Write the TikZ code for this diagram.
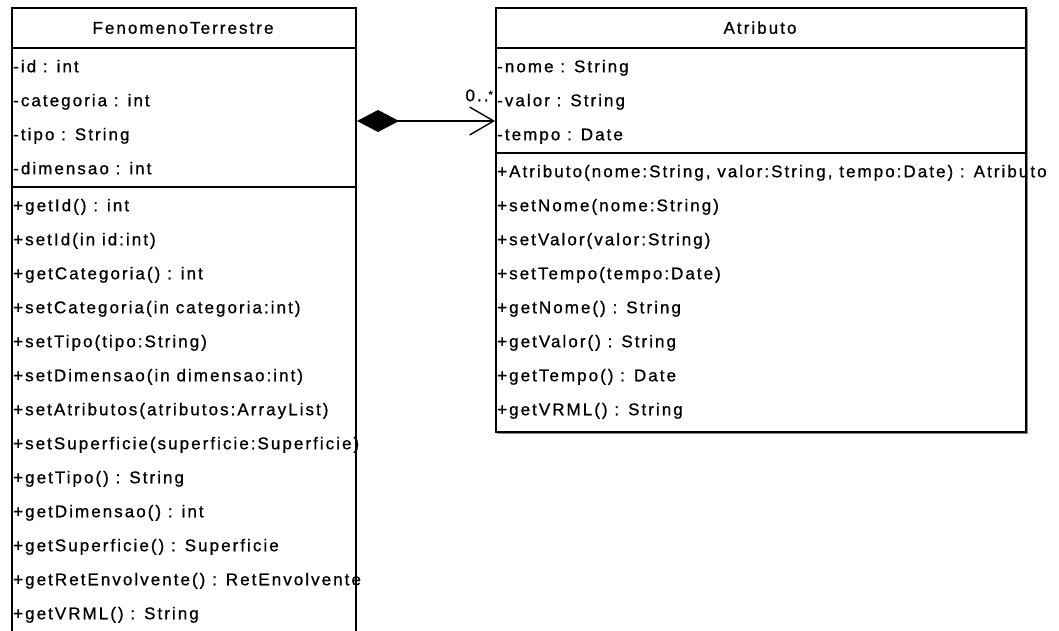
\documentclass[tikz,border=0pt]{standalone}
\usepackage{fontspec}
\setmainfont[LetterSpace=12,FakeBold=0.8]{Liberation Sans}
\usetikzlibrary{arrows.meta}
\begin{document}
\begin{tikzpicture}[x=1pt,y=-1pt,
  umlbox/.style={draw=black, line width=2pt, anchor=north west, inner sep=0pt},
  sepline/.style={draw=black, line width=2pt},
  shadowline/.style={draw=black!45, line width=1.2pt},
  txt/.style={font=\fontsize{17pt}{19pt}\selectfont, inner sep=0pt,
    text height=12pt, text depth=3.5pt},
  title/.style={txt, anchor=center},
  row/.style={txt, anchor=west},
  mult/.style={txt, anchor=south east},
  assoc/.style={draw=black, line width=1.4pt,
    {Diamond[length=42pt,width=22pt]}-{Straight Barb[length=24pt,width=28pt,line width=1.4pt]}}]
\useasboundingbox (0,0) rectangle (1059,631);

% ---- class FenomenoTerrestre (runs past the lower edge) ----
\node[umlbox, minimum width=344pt, minimum height=640pt] (ft) at (11,7) {};
\draw[sepline] (ft.west |- 0,48) -- (ft.east |- 0,48);
\draw[sepline] (ft.west |- 0,187) -- (ft.east |- 0,187);
\node[title] (ftname) at (183,29.5) {FenomenoTerrestre};
\foreach \t [count=\i from 0] in {%
  -id : int,
  -categoria : int,
  -tipo : String,
  -dimensao : int}
  \node[row] (fta\i) at (13,68+34*\i) {\t};
\foreach \t [count=\i from 0] in {%
  +getId() : int,
  +setId(in id:int),
  +getCategoria() : int,
  +setCategoria(in categoria:int),
  +setTipo(tipo:String),
  +setDimensao(in dimensao:int),
  +setAtributos(atributos:ArrayList),
  +setSuperficie(superficie:Superficie),
  +getTipo() : String,
  +getDimensao() : int,
  +getSuperficie() : Superficie,
  +getRetEnvolvente() : RetEnvolvente,
  +getVRML() : String}
  \node[row] (ftm\i) at (13,207+34*\i) {\t};

% ---- class Atributo ----
\draw[shadowline] (497,433) -- (1027,433) -- (1027,9);
\node[umlbox, minimum width=530pt, minimum height=424pt] (at) at (495,7) {};
\draw[sepline] (at.west |- 0,48) -- (at.east |- 0,48);
\draw[sepline] (at.west |- 0,153) -- (at.east |- 0,153);
\node[title] (atname) at (760,29.5) {Atributo};
\foreach \t [count=\i from 0] in {%
  -nome : String,
  -valor : String,
  -tempo : Date}
  \node[row] (ata\i) at (497,68+34*\i) {\t};
\foreach \t [count=\i from 0] in {%
  {+Atributo(nome:String, valor:String, tempo:Date) : Atributo},
  +setNome(nome:String),
  +setValor(valor:String),
  +setTempo(tempo:Date),
  +getNome() : String,
  +getValor() : String,
  +getTempo() : Date,
  +getVRML() : String}
  \node[row] (atm\i) at (497,173+34*\i) {\t};

% ---- composition FenomenoTerrestre <>-> Atributo ----
\coordinate (link) at (0,121);
\draw[assoc] (ft.east |- link) -- (at.west |- link);
\node[mult] (card) at (493,105) {0..\raisebox{3pt}{\fontsize{11pt}{11pt}\selectfont *}};
\end{tikzpicture}
\end{document}
